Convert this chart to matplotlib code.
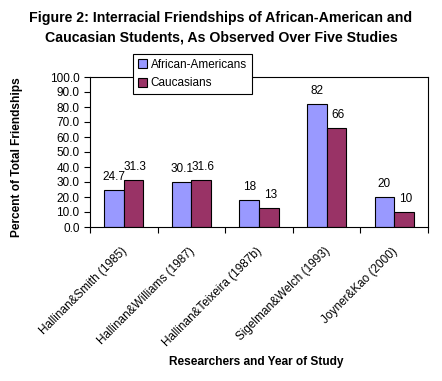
import numpy as np
import matplotlib.pyplot as plt

plt.rcParams['font.family'] = ['Liberation Sans', 'DejaVu Sans']

studies = ['Hallinan&Smith (1985)', 'Hallinan&Williams (1987)',
           'Hallinan&Teixeira (1987b)', 'Sigelman&Welch (1993)',
           'Joyner&Kao (2000)']
african = [24.7, 30.1, 18, 82, 20]
caucasian = [31.3, 31.6, 13, 66, 10]
african_lbl = ['24.7', '30.1', '18', '82', '20']
caucasian_lbl = ['31.3', '31.6', '13', '66', '10']

fs = 8.5

fig = plt.figure(figsize=(4.42, 3.81), dpi=100)
ax = fig.add_axes([90 / 442, 1 - 227 / 381, 338 / 442, 150 / 381])

x = np.arange(len(studies))
w = 0.29
ax.bar(x - w / 2, african, w, color='#9999FF', edgecolor='black',
       linewidth=0.8, label='African-Americans')
ax.bar(x + w / 2, caucasian, w, color='#993366', edgecolor='black',
       linewidth=0.8, label='Caucasians')

# value labels above each bar
for xi, v, t in zip(x - w / 2, african, african_lbl):
    ax.annotate(t, (xi, v), xytext=(0, 5), textcoords='offset points',
                ha='center', va='bottom', fontsize=fs)
for xi, v, t in zip(x + w / 2, caucasian, caucasian_lbl):
    ax.annotate(t, (xi, v), xytext=(1, 5), textcoords='offset points',
                ha='center', va='bottom', fontsize=fs)

ax.set_xlim(-0.5, 4.5)
ax.set_ylim(0, 100)
ax.set_yticks(np.arange(0, 101, 10))
ax.set_yticklabels([f'{v:.1f}' for v in np.arange(0, 101, 10)], fontsize=fs)
ax.set_xticks(np.arange(-0.5, 5, 1))
ax.set_xticklabels([])
ax.set_xticks(x - 0.04, minor=True)
ax.set_xticklabels(studies, minor=True, rotation=45, ha='right', va='top',
                   rotation_mode='anchor', fontsize=fs)
ax.tick_params(axis='x', which='minor', length=0, pad=13)
ax.tick_params(axis='both', which='major', length=4, width=0.8, direction='out')
for s in ax.spines.values():
    s.set_linewidth(0.8)

fig.text(17 / 442, 1 - 157 / 381, 'Percent of Total Friendships',
         rotation=90, ha='center', va='center', fontsize=8.6, fontweight='bold')
fig.text(256 / 442, 1 - 362 / 381, 'Researchers and Year of Study',
         ha='center', va='center', fontsize=8.6, fontweight='bold')

fig.text(0.5, 1 - 18 / 381,
         'Figure 2: Interracial Friendships of African-American and',
         ha='center', va='center', fontsize=10.2, fontweight='bold')
fig.text(0.5, 1 - 37 / 381,
         'Caucasian Students, As Observed Over Five Studies',
         ha='center', va='center', fontsize=10.2, fontweight='bold')

leg = fig.legend(loc='upper left', bbox_to_anchor=(133 / 442, 1 - 54 / 381),
                 fontsize=fs, frameon=True, fancybox=False, edgecolor='black',
                 framealpha=1, handlelength=0.8, handleheight=0.8,
                 handletextpad=0.3, borderpad=0.4, labelspacing=0.55,
                 borderaxespad=0)
leg.get_frame().set_linewidth(0.8)

fig.savefig('out.png', dpi=100)
